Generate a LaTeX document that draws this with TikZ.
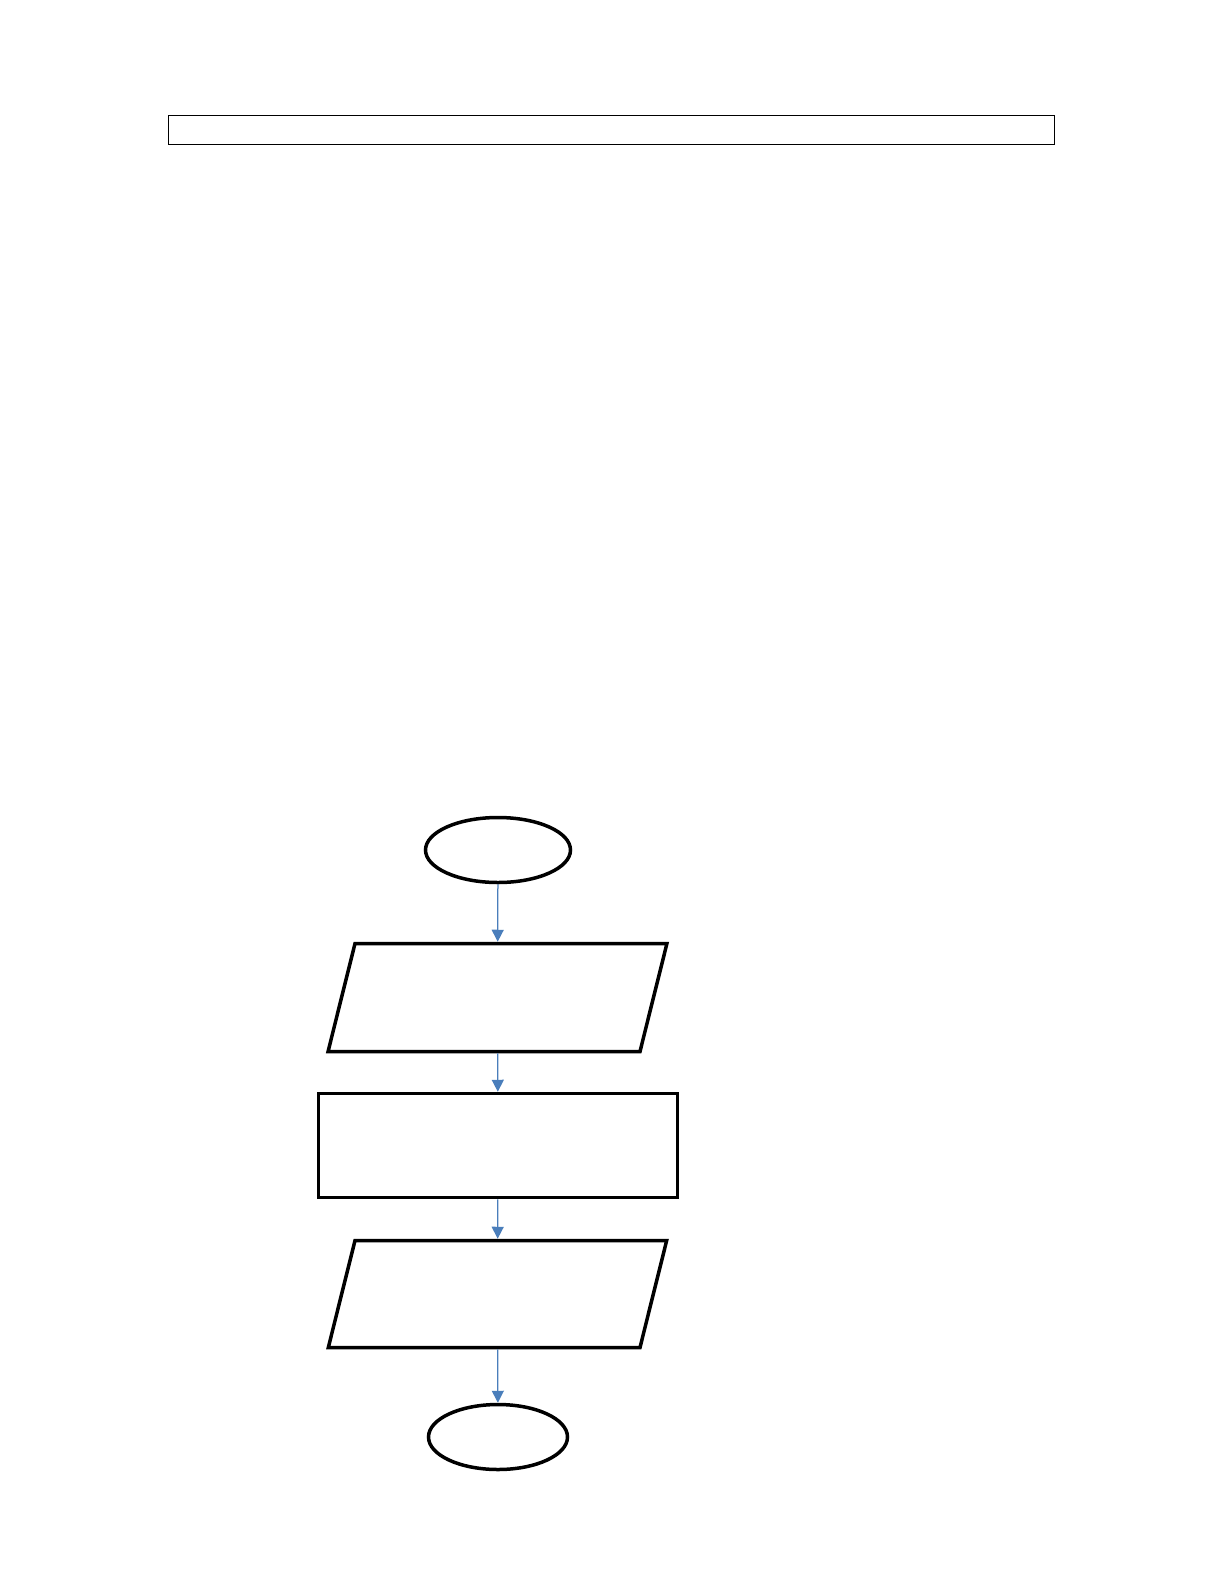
\documentclass[tikz,border=0pt]{standalone}
\usetikzlibrary{shapes.geometric,arrows.meta}
\definecolor{arrowblue}{HTML}{4A7EBB}
\begin{document}
\begin{tikzpicture}[x=0.2mm,y=-0.2mm,
    terminal/.style={ellipse,draw=black,line width=0.7mm,inner sep=0pt},
    inout/.style={trapezium,trapezium left angle=76,trapezium right angle=104,draw=black,line width=0.7mm,inner xsep=28.5mm},
    process/.style={rectangle,draw=black,line width=0.7mm,inner sep=0pt,minimum width=71.8mm,minimum height=20.8mm},
    flow/.style={arrowblue,line width=0.25mm,-{Triangle[length=2.4mm,width=2.4mm]}}]
    \useasboundingbox (0,0) rectangle (1225,1585);
    % title box
    \node [rectangle,draw=black,line width=0.25mm,minimum width=177.2mm,minimum height=5.8mm] (titlebox) at (611.5,130) {};
    % flowchart
    \node [terminal,minimum width=29mm,minimum height=13mm] (start) at (498,850) {};
    \node [inout,inner ysep=10.8mm] (input) at (497.5,997.5) {};
    \node [process] (calc) at (498,1145.5) {};
    \node [inout,inner ysep=10.7mm] (output) at (497.5,1294) {};
    \node [terminal,minimum width=27.8mm,minimum height=13mm] (stop) at (498,1437) {};
    \draw [flow] (start) -- (input);
    \draw [flow] (input) -- (calc);
    \draw [flow] (calc) -- (output);
    \draw [flow] (output) -- (stop);
\end{tikzpicture}
\end{document}
